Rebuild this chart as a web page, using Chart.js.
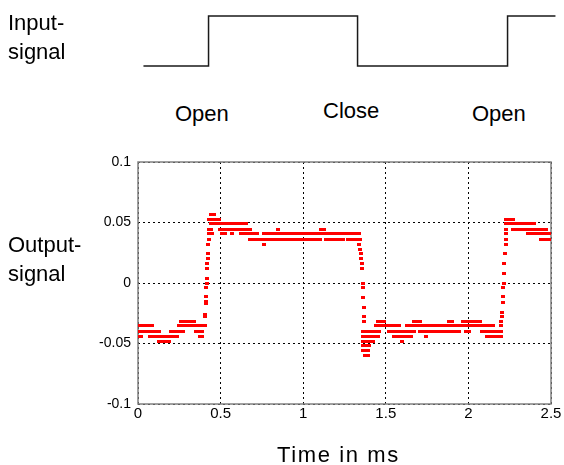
<!DOCTYPE html>
<html>
<head>
<meta charset="utf-8">
<script src="https://cdn.jsdelivr.net/npm/chart.js@4.4.1/dist/chart.umd.min.js"></script>
<style>
  body { margin: 0; background: #fff; }
  #page { position: relative; width: 564px; height: 465px; font-family: 'Liberation Sans', Arial, sans-serif; color: #000; }
  .lbl { position: absolute; font-size: 22px; line-height: 22px; white-space: nowrap; }
  canvas { position: absolute; left: 0; }
</style>
</head>
<body>
<div id="page">
  <canvas id="inputChart" width="564" height="90" style="top:0"></canvas>
  <canvas id="outputChart" width="564" height="325" style="top:140px"></canvas>
  <div class="lbl" style="left:8px; top:12px">Input-</div>
  <div class="lbl" style="left:8px; top:41px">signal</div>
  <div class="lbl" style="left:175px; top:103px">Open</div>
  <div class="lbl" style="left:323px; top:100px">Close</div>
  <div class="lbl" style="left:472px; top:103px">Open</div>
  <div class="lbl" style="left:8px; top:234px">Output-</div>
  <div class="lbl" style="left:8px; top:263px">signal</div>
  <div class="lbl" style="left:277px; top:444px; letter-spacing:1.6px">Time in ms</div>
</div>
<script>
// input signal: step edges in ms
const inputTimes = [0.033, 0.427, 0.427, 1.329, 1.329, 2.237, 2.237, 2.527];
const inputLevels = [0, 0, 1, 1, 0, 0, 1, 1];

// output signal samples [time ms, value]
const lowStart = [
  [0.26,-0.0315],[0.28,-0.0315],[0.30,-0.0315],[0.32,-0.0315],[0.34,-0.0315],
  [0.01,-0.0355],[0.03,-0.0355],[0.05,-0.0355],[0.07,-0.0355],[0.085,-0.0355],
  [0.25,-0.0355],[0.27,-0.0355],[0.29,-0.0355],[0.31,-0.0355],[0.33,-0.0355],[0.35,-0.0355],[0.37,-0.0355],[0.39,-0.0355],[0.405,-0.0355],
  [0.00,-0.040],[0.02,-0.040],[0.04,-0.040],[0.06,-0.040],[0.08,-0.040],[0.10,-0.040],[0.12,-0.040],[0.13,-0.040],
  [0.20,-0.040],[0.22,-0.040],[0.24,-0.040],[0.26,-0.040],[0.275,-0.040],[0.35,-0.040],[0.37,-0.040],[0.39,-0.040],
  [0.00,-0.0444],[0.02,-0.0444],[0.075,-0.0444],[0.095,-0.0444],[0.115,-0.0444],[0.135,-0.0444],[0.155,-0.0444],
  [0.175,-0.0444],[0.195,-0.0444],[0.215,-0.0444],[0.235,-0.0444],[0.375,-0.0444],[0.385,-0.0444],
  [0.13,-0.0485],[0.15,-0.0485],[0.17,-0.0485],[0.185,-0.0485]
];
const riseOne = [
  [0.405,-0.028],[0.408,-0.026],[0.41,-0.017],[0.41,-0.015],[0.41,-0.011],[0.413,-0.004],[0.415,0],[0.415,0.004],
  [0.418,0.012],[0.42,0.016],[0.422,0.020],[0.422,0.0245],[0.425,0.0322],[0.428,0.0362],[0.428,0.0405],[0.43,0.0446]
];
const highOne = [
  [0.44,0.057],[0.46,0.057],
  [0.43,0.0525],[0.45,0.0525],[0.47,0.0525],[0.49,0.0525],
  [0.44,0.0488],[0.46,0.0488],[0.48,0.0488],[0.50,0.0488],[0.52,0.0488],[0.54,0.0488],[0.56,0.0488],[0.58,0.0488],
  [0.60,0.0488],[0.62,0.0488],[0.64,0.0488],[0.655,0.0488],
  [0.44,0.0446],[0.495,0.0446],[0.515,0.0446],[0.535,0.0446],[0.555,0.0446],[0.575,0.0446],[0.595,0.0446],[0.615,0.0446],
  [0.635,0.0446],[0.655,0.0446],[0.675,0.0446],[0.85,0.0446],[1.11,0.0446],[1.125,0.0446],
  [0.445,0.0405],[0.51,0.0405],[0.525,0.0405],[0.57,0.0405],[0.625,0.0405],[0.645,0.0405],[0.665,0.0405],[0.685,0.0405],
  [0.705,0.0405],[0.72,0.0405],[0.76,0.0405],[0.78,0.0405],[0.80,0.0405],[0.82,0.0405],[0.84,0.0405],[0.86,0.0405],
  [0.88,0.0405],[0.90,0.0405],[0.92,0.0405],[0.94,0.0405],[0.96,0.0405],[0.98,0.0405],[1.00,0.0405],[1.02,0.0405],
  [1.04,0.0405],[1.06,0.0405],[1.08,0.0405],[1.10,0.0405],[1.12,0.0405],[1.14,0.0405],[1.16,0.0405],[1.18,0.0405],
  [1.20,0.0405],[1.22,0.0405],[1.24,0.0405],[1.26,0.0405],[1.28,0.0405],[1.30,0.0405],[1.32,0.0405],[1.335,0.0405],
  [0.68,0.0362],[0.70,0.0362],[0.72,0.0362],[0.74,0.0362],[0.76,0.0362],[0.78,0.0362],[0.80,0.0362],[0.82,0.0362],
  [0.84,0.0362],[0.86,0.0362],[0.88,0.0362],[0.90,0.0362],[0.92,0.0362],[0.94,0.0362],[0.96,0.0362],[0.98,0.0362],
  [1.00,0.0362],[1.02,0.0362],[1.04,0.0362],[1.06,0.0362],[1.08,0.0362],[1.10,0.0362],[1.14,0.0362],[1.16,0.0362],
  [1.18,0.0362],[1.20,0.0362],[1.22,0.0362],[1.24,0.0362],[1.27,0.0362],[1.29,0.0362],[1.31,0.0362],[1.33,0.0362],
  [1.345,0.0362],[0.765,0.0322]
];
const fallOne = [
  [1.337,0.0322],[1.343,0.028],[1.347,0.0245],[1.351,0.020],[1.355,0.016],[1.356,0.012],[1.362,0],[1.362,-0.004],
  [1.363,-0.012],[1.366,-0.020],[1.367,-0.028],[1.367,-0.0315]
];
const lowTwo = [
  [1.45,-0.0315],[1.47,-0.0315],[1.49,-0.0315],[1.67,-0.0315],[1.69,-0.0315],[1.71,-0.0315],[1.88,-0.0315],[1.90,-0.0315],
  [1.97,-0.0315],[1.99,-0.0315],[2.01,-0.0315],[2.03,-0.0315],[2.05,-0.0315],[2.07,-0.0315],
  [1.44,-0.0355],[1.46,-0.0355],[1.48,-0.0355],[1.50,-0.0355],[1.52,-0.0355],[1.54,-0.0355],[1.56,-0.0355],[1.58,-0.0355],
  [1.63,-0.0355],[1.65,-0.0355],[1.67,-0.0355],[1.69,-0.0355],[1.71,-0.0355],[1.73,-0.0355],[1.75,-0.0355],[1.77,-0.0355],
  [1.79,-0.0355],[1.81,-0.0355],[1.83,-0.0355],[1.85,-0.0355],[1.87,-0.0355],[1.89,-0.0355],[1.91,-0.0355],[1.93,-0.0355],
  [1.95,-0.0355],[1.97,-0.0355],[1.99,-0.0355],[2.01,-0.0355],[2.03,-0.0355],[2.05,-0.0355],[2.07,-0.0355],[2.09,-0.0355],
  [2.11,-0.0355],[2.13,-0.0355],[2.15,-0.0355],
  [1.36,-0.040],[1.38,-0.040],[1.40,-0.040],[1.42,-0.040],[1.44,-0.040],[1.46,-0.040],[1.52,-0.040],[1.54,-0.040],
  [1.56,-0.040],[1.58,-0.040],[1.60,-0.040],[1.62,-0.040],[1.64,-0.040],[1.66,-0.040],[1.67,-0.040],[1.71,-0.040],
  [1.73,-0.040],[1.75,-0.040],[1.77,-0.040],[1.79,-0.040],[1.81,-0.040],[1.825,-0.040],[1.845,-0.040],[1.865,-0.040],
  [1.885,-0.040],[1.905,-0.040],[1.925,-0.040],[1.945,-0.040],[1.985,-0.040],[2.005,-0.040],[2.08,-0.040],[2.10,-0.040],
  [2.12,-0.040],[2.14,-0.040],[2.16,-0.040],[2.18,-0.040],[2.20,-0.040],
  [1.36,-0.0444],[1.38,-0.0444],[1.40,-0.0444],[1.42,-0.0444],[1.44,-0.0444],[1.45,-0.0444],[1.55,-0.0444],[1.57,-0.0444],
  [1.59,-0.0444],[1.61,-0.0444],[1.63,-0.0444],[1.65,-0.0444],[1.745,-0.0444],[2.115,-0.0444],[2.135,-0.0444],
  [2.155,-0.0444],[2.175,-0.0444],[2.195,-0.0444],
  [1.36,-0.0485],[1.38,-0.0485],[1.40,-0.0485],[1.42,-0.0485],[1.60,-0.0485],
  [1.365,-0.052],[1.385,-0.052],[1.40,-0.052],
  [1.365,-0.056],[1.385,-0.056],[1.395,-0.056],
  [1.375,-0.060],[1.39,-0.060]
];
const riseTwo = [
  [2.198,-0.0355],[2.199,-0.0315],[2.205,-0.028],[2.205,-0.024],[2.208,-0.016],[2.208,-0.011],[2.212,-0.0035],[2.214,0],
  [2.215,0.008],[2.218,0.016],[2.22,0.0245],[2.225,0.0322],[2.226,0.0362],[2.227,0.0405],[2.228,0.0446]
];
const highTwo = [
  [2.23,0.0525],[2.25,0.0525],[2.27,0.0525],
  [2.23,0.0488],[2.25,0.0488],[2.27,0.0488],[2.29,0.0488],[2.31,0.0488],[2.33,0.0488],[2.35,0.0488],[2.37,0.0488],[2.40,0.0488],
  [2.27,0.0446],[2.29,0.0446],[2.31,0.0446],[2.33,0.0446],[2.35,0.0446],[2.37,0.0446],[2.39,0.0446],[2.41,0.0446],
  [2.43,0.0446],[2.45,0.0446],[2.47,0.0446],
  [2.36,0.0405],[2.38,0.0405],[2.40,0.0405],[2.42,0.0405],[2.44,0.0405],[2.46,0.0405],[2.48,0.0405],[2.50,0.0405],
  [2.44,0.0362],[2.46,0.0362],[2.48,0.0362],[2.50,0.0362]
];

const xTicks = [0, 0.5, 1, 1.5, 2, 2.5];
const xTickLabels = ['0', '0.5', '1', '1.5', '2', '2.5'];
const yTicks = [-0.1, -0.05, 0, 0.05, 0.1];
const yTickLabels = ['-0.1', '-0.05', '0', '0.05', '0.1'];

const fontFamily = "'Liberation Sans', Arial, sans-serif";

new Chart(document.getElementById('inputChart'), {
  type: 'line',
  data: {
    datasets: [{
      data: inputTimes.map((t, i) => ({ x: t, y: inputLevels[i] })),
      borderColor: '#1a1a1a',
      borderWidth: 1.5,
      pointRadius: 0,
      tension: 0,
      clip: false
    }]
  },
  options: {
    responsive: false,
    animation: false,
    events: [],
    layout: { padding: { left: 138, right: 13, top: 16, bottom: 24 } },
    plugins: { legend: { display: false }, tooltip: { enabled: false } },
    scales: {
      x: { type: 'linear', min: 0, max: 2.5, display: false },
      y: { min: 0, max: 1, display: false }
    }
  }
});

// small red dash used as the point marker
const mark = document.createElement('canvas');
mark.width = 4;
mark.height = 3;
const mctx = mark.getContext('2d');
mctx.fillStyle = '#ff0000';
mctx.fillRect(0, 0, 4, 3);

const framePlugin = {
  id: 'frame',
  beforeDatasetsDraw(chart) {
    const { ctx, chartArea: a } = chart;
    ctx.save();
    ctx.strokeStyle = '#808080';
    ctx.lineWidth = 1.5;
    ctx.strokeRect(a.left, a.top, a.right - a.left, a.bottom - a.top);
    ctx.restore();
  }
};

const samples = [...lowStart, ...riseOne, ...highOne, ...fallOne, ...lowTwo, ...riseTwo, ...highTwo];

new Chart(document.getElementById('outputChart'), {
  type: 'scatter',
  data: {
    datasets: [{
      data: samples.map(([t, v]) => ({ x: t, y: v })),
      pointStyle: mark,
      pointRadius: 2,
      pointHoverRadius: 2
    }]
  },
  options: {
    responsive: false,
    animation: false,
    events: [],
    layout: { padding: { left: 0, right: 13, top: 22, bottom: 0 } },
    plugins: { legend: { display: false }, tooltip: { enabled: false } },
    scales: {
      x: {
        type: 'linear',
        min: 0,
        max: 2.5,
        afterBuildTicks: (s) => { s.ticks = xTicks.map(v => ({ value: v })); },
        afterFit: (s) => { s.height = 61; },
        ticks: {
          callback: (v, i) => xTickLabels[i],
          color: '#000',
          font: { family: fontFamily, size: 15 },
          padding: 1,
          maxRotation: 0
        },
        grid: { color: '#000', lineWidth: 1, drawTicks: false },
        border: { display: false, dash: [2, 3] }
      },
      y: {
        min: -0.1,
        max: 0.1,
        afterBuildTicks: (s) => { s.ticks = yTicks.map(v => ({ value: v })); },
        afterFit: (s) => { s.width = 138; },
        ticks: {
          callback: (v, i) => yTickLabels[i],
          color: '#000',
          font: { family: fontFamily, size: 14 },
          padding: 7
        },
        grid: { color: '#000', lineWidth: 1, drawTicks: false },
        border: { display: false, dash: [2, 3] }
      }
    }
  },
  plugins: [framePlugin]
});
</script>
</body>
</html>
